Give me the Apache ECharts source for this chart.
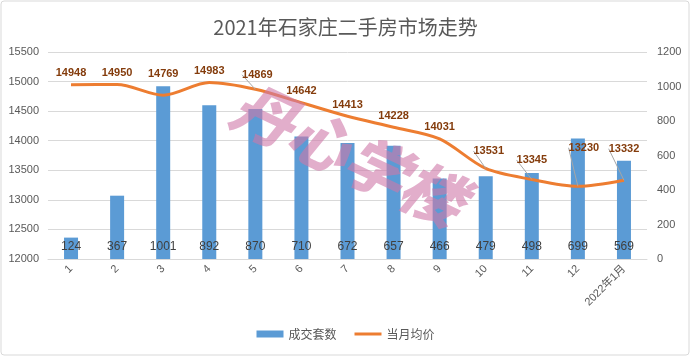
<!DOCTYPE html>
<html>
<head>
<meta charset="utf-8">
<script src="https://cdn.jsdelivr.net/npm/echarts@6/dist/echarts.min.js"></script>
<style>
html,body{margin:0;padding:0;background:#fff;}
#chart{width:691px;height:357px;}
</style>
</head>
<body>
<div id="chart"></div>
<script>
const categories = ['1','2','3','4','5','6','7','8','9','10','11','12','2022年1月'];
const volumes = [124, 367, 1001, 892, 870, 710, 672, 657, 466, 479, 498, 699, 569];
const prices = [14948, 14950, 14769, 14983, 14869, 14642, 14413, 14228, 14031, 13531, 13345, 13230, 13332];
const leftTicks = [12000, 15500, 500];
const rightTicks = [0, 1200, 200];
const labelShift = [0, 0, -10, 0, -3, 0, 0, 0, 0, -6, -8, -27, -20];
const labelShiftX = [0, 0, 0, 0, 2, 0, 0, 0, 0, 3, 0, 6, 0];
const hasLeader = [false, false, false, false, true, false, false, false, false, true, true, true, true];

const chart = echarts.init(document.getElementById('chart'));
const font = '"Liberation Sans", "Noto Sans CJK SC", sans-serif';
chart.setOption({
  animation: false,
  textStyle: { fontFamily: font },
  title: {
    text: '2021年石家庄二手房市场走势',
    left: 'center', top: 12,
    textStyle: { fontSize: 20, fontWeight: 'normal', color: '#595959', fontFamily: '"Noto Sans CJK SC", sans-serif' }
  },
  legend: {
    bottom: 12, left: 'center',
    itemWidth: 27, itemHeight: 7, itemGap: 18,
    textStyle: { fontSize: 12, color: '#595959', fontFamily: '"Noto Sans CJK SC", sans-serif' },
    data: [
      { name: '成交套数', icon: 'rect' },
      { name: '当月均价', icon: 'path://M0,0h27v3h-27z' }
    ]
  },
  grid: { left: 48, right: 44, top: 52, bottom: 98 },
  xAxis: {
    type: 'category',
    data: categories,
    axisLine: { lineStyle: { color: '#d9d9d9' } },
    axisTick: { show: false },
    axisLabel: { rotate: 45, fontSize: 11, color: '#595959', margin: 8, interval: 0 }
  },
  yAxis: [
    {
      type: 'value', min: leftTicks[0], max: leftTicks[1], interval: leftTicks[2],
      axisLine: { show: false }, axisTick: { show: false },
      axisLabel: { fontSize: 11, color: '#595959', margin: 9, formatter: v => String(v) },
      splitLine: { lineStyle: { color: '#d9d9d9' } }
    },
    {
      type: 'value', min: rightTicks[0], max: rightTicks[1], interval: rightTicks[2],
      axisLine: { show: false }, axisTick: { show: false },
      axisLabel: { fontSize: 11, color: '#595959', margin: 10, formatter: v => String(v) },
      splitLine: { show: false }
    }
  ],
  series: [
    {
      name: '成交套数', type: 'bar', yAxisIndex: 1,
      data: volumes, barWidth: 14,
      itemStyle: { color: '#5B9BD5' },
      label: { show: true, position: 'insideBottom', distance: 6, fontSize: 12, color: '#404040' }
    },
    {
      name: '当月均价', type: 'line', yAxisIndex: 0,
      data: prices.map((v, i) => ({ value: v, labelLine: { show: hasLeader[i] } })),
      smooth: 0.3, symbol: 'circle', symbolSize: 0, showSymbol: true,
      lineStyle: { color: '#ED7D31', width: 3 },
      itemStyle: { color: '#ED7D31' },
      label: { show: true, position: 'top', distance: 6, fontSize: 11, fontWeight: 'bold', color: '#843C0C' },
      labelLine: { show: true, lineStyle: { color: '#a6a6a6', width: 1 } },
      labelLayout: function (p) { return { dx: labelShiftX[p.dataIndex], dy: labelShift[p.dataIndex] }; },
      z: 3
    }
  ],
  graphic: [
    {
      type: 'rect', silent: true,
      shape: { x: 1, y: 1, width: 688, height: 354, r: 3 },
      style: { fill: 'none', stroke: '#d9d9d9', lineWidth: 1 }
    },
    {
      type: 'text', silent: true, z: 100,
      x: 348, y: 154, rotation: -0.44,
      style: {
        text: '丹心学楼', align: 'center', verticalAlign: 'middle',
        font: 'italic 900 62px "Noto Sans CJK SC", sans-serif',
        fill: 'rgba(206,120,168,0.6)'
      }
    }
  ]
});
</script>
</body>
</html>
